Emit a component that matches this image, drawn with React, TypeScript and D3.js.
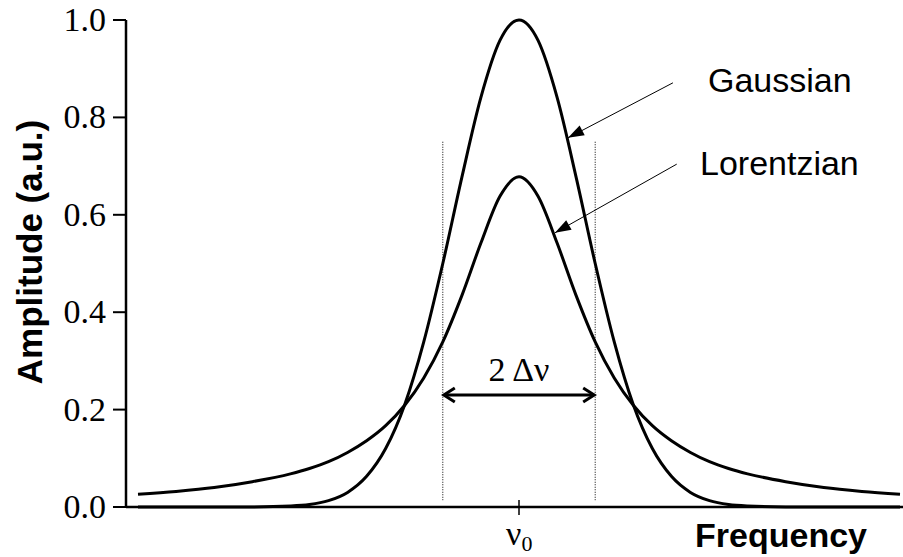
import React from "react";
import * as d3 from "d3";

// frequency offset from line centre, in units of the half width (Δν)
const offsets = [
  -5, -4.5, -4, -3.5, -3, -2.75, -2.5, -2.25, -2, -1.75, -1.5, -1.25, -1, -0.75, -0.5, -0.25,
  0, 0.25, 0.5, 0.75, 1, 1.25, 1.5, 1.75, 2, 2.25, 2.5, 2.75, 3, 3.5, 4, 4.5, 5,
];
const gaussian = [
  0, 0, 0, 0.0002, 0.002, 0.005, 0.013, 0.03, 0.063, 0.12, 0.21, 0.339, 0.5, 0.677, 0.841, 0.958,
  1, 0.958, 0.841, 0.677, 0.5, 0.339, 0.21, 0.12, 0.063, 0.03, 0.013, 0.005, 0.002, 0.0002, 0, 0, 0,
];
const lorentzian = [
  0.026, 0.032, 0.04, 0.052, 0.068, 0.079, 0.093, 0.112, 0.136, 0.167, 0.209, 0.265, 0.339, 0.434, 0.542, 0.638,
  0.678, 0.638, 0.542, 0.434, 0.339, 0.265, 0.209, 0.167, 0.136, 0.112, 0.093, 0.079, 0.068, 0.052, 0.04, 0.032, 0.026,
];
const yTicks = [0, 0.2, 0.4, 0.6, 0.8, 1.0];

const W = 903;
const H = 557;
const serif = "Liberation Serif, DejaVu Serif, Times New Roman, serif";
const sans = "Liberation Sans, Arial, sans-serif";

function headPoints(x1: number, y1: number, x2: number, y2: number, len: number, half: number) {
  const a = Math.atan2(y2 - y1, x2 - x1);
  const bx = x2 - len * Math.cos(a);
  const by = y2 - len * Math.sin(a);
  const px = -Math.sin(a) * half;
  const py = Math.cos(a) * half;
  return `${x2},${y2} ${bx + px},${by + py} ${bx - px},${by - py}`;
}

export default function App() {
  const x = d3.scaleLinear().domain([-5, 5]).range([138, 900]);
  const y = d3.scaleLinear().domain([0, 1]).range([507, 20]);
  const axisLeft = 126;
  const axisRight = 903;

  const line = d3
    .line<number>()
    .x((_, i) => x(offsets[i]))
    .y((d) => y(d))
    .curve(d3.curveMonotoneX);

  const fmt = d3.format(".1f");

  // annotation arrows: [start, tip] in data units
  const gArrow = [[2.02, 0.871], [0.643, 0.758]];
  const lArrow = [[2.07, 0.704], [0.472, 0.563]];
  const spanY = y(0.23);

  const arrow = (pts: number[][]) => {
    const [x1, y1, x2, y2] = [x(pts[0][0]), y(pts[0][1]), x(pts[1][0]), y(pts[1][1])];
    return (
      <g>
        <line x1={x1} y1={y1} x2={x2} y2={y2} stroke="#000" strokeWidth={1} />
        <polygon points={headPoints(x1, y1, x2, y2, 16, 5.5)} fill="#000" />
      </g>
    );
  };

  return (
    <svg width={W} height={H} style={{ position: "absolute", left: 0, top: 0, background: "#fff" }}>
      {/* axes */}
      <line x1={axisLeft} y1={y(1)} x2={axisLeft} y2={y(0) + 1} stroke="#000" strokeWidth={2.5} />
      <line x1={axisLeft} y1={y(0)} x2={axisRight} y2={y(0)} stroke="#000" strokeWidth={2.5} />
      {yTicks.map((t) => (
        <g key={t}>
          <line x1={axisLeft - 13} x2={axisLeft} y1={y(t)} y2={y(t)} stroke="#000" strokeWidth={2} />
          <text x={106} y={y(t) + 11} textAnchor="end" style={{ fontFamily: serif }} fontSize={34}>
            {fmt(t)}
          </text>
        </g>
      ))}
      <line x1={x(0)} x2={x(0)} y1={y(0) - 7} y2={y(0) + 8} stroke="#000" strokeWidth={1.5} />
      <text x={x(0) - 13} y={545} style={{ fontFamily: serif }} fontSize={34}>
        ν<tspan fontSize={22} dy={6}>0</tspan>
      </text>
      <text x={867} y={547} textAnchor="end" style={{ fontFamily: sans }} fontWeight="bold" fontSize={34}>
        Frequency
      </text>
      <text
        transform={`translate(42, ${252}) rotate(-90)`}
        textAnchor="middle"
        style={{ fontFamily: sans }}
        fontWeight="bold"
        fontSize={35}
      >
        Amplitude (a.u.)
      </text>

      {/* half-width markers */}
      {[-1, 1].map((d) => (
        <line
          key={d}
          x1={x(d)}
          x2={x(d)}
          y1={y(0.75)}
          y2={y(0.014)}
          stroke="#000"
          strokeWidth={1}
          strokeDasharray="1,1.5"
        />
      ))}
      <line x1={x(-1) + 2} x2={x(1) - 2} y1={spanY} y2={spanY} stroke="#000" strokeWidth={3} />
      <path
        d={`M${x(-1) + 12},${spanY - 7} L${x(-1) + 1},${spanY} L${x(-1) + 12},${spanY + 7}`}
        fill="none"
        stroke="#000"
        strokeWidth={3}
      />
      <path
        d={`M${x(1) - 12},${spanY - 7} L${x(1) - 1},${spanY} L${x(1) - 12},${spanY + 7}`}
        fill="none"
        stroke="#000"
        strokeWidth={3}
      />
      <text x={x(0)} y={381} textAnchor="middle" style={{ fontFamily: serif }} fontSize={34}>
        2 Δν
      </text>

      {/* curves */}
      <path d={line(gaussian) || ""} fill="none" stroke="#000" strokeWidth={3} />
      <path d={line(lorentzian) || ""} fill="none" stroke="#000" strokeWidth={3} />

      {/* labels */}
      {arrow(gArrow)}
      {arrow(lArrow)}
      <text x={708} y={92} style={{ fontFamily: sans }} fontSize={34}>
        Gaussian
      </text>
      <text x={700} y={175} style={{ fontFamily: sans }} fontSize={34}>
        Lorentzian
      </text>
    </svg>
  );
}
